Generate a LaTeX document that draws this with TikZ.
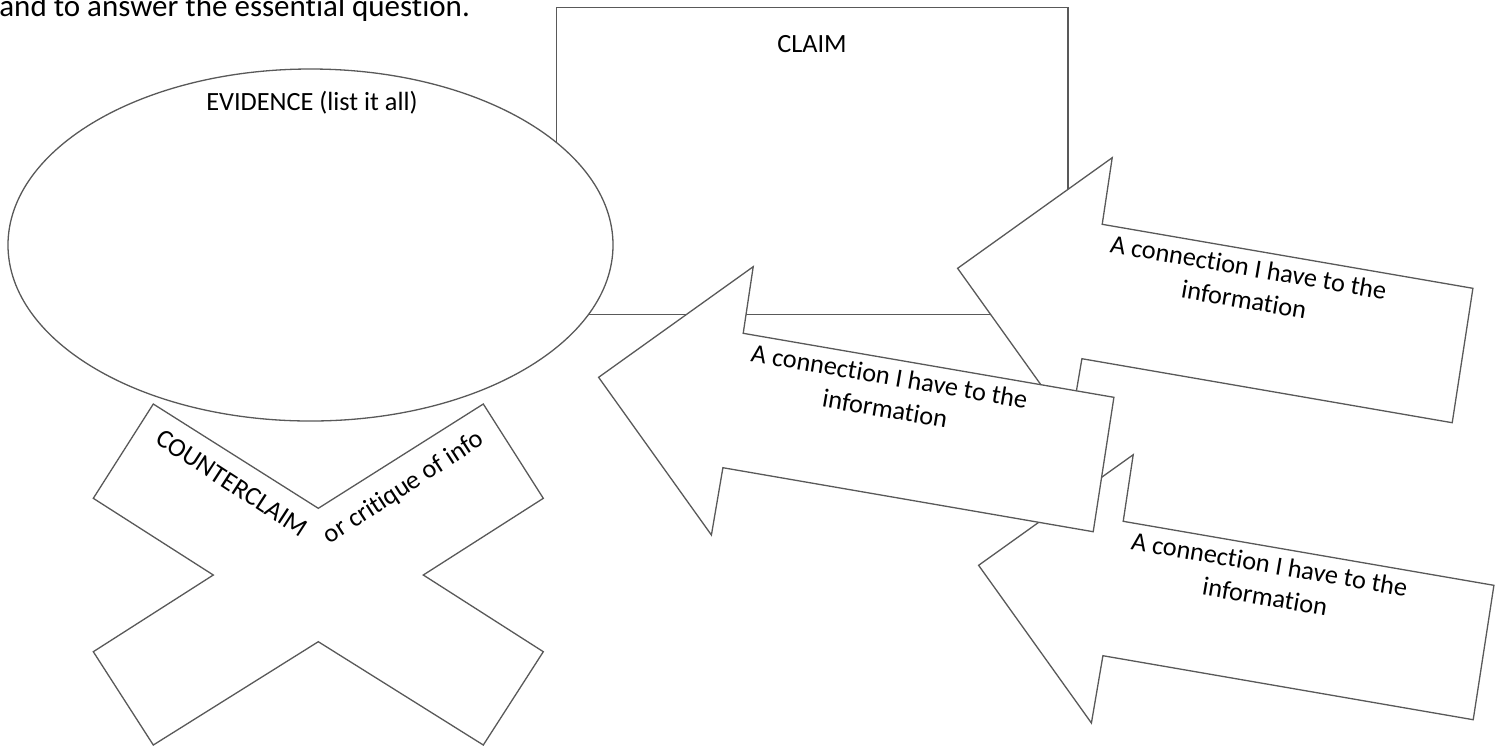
\documentclass[tikz,border=0pt]{standalone}
\usepackage{fontspec}
\setmainfont{Carlito}[Ligatures=NoCommon]
\definecolor{shapeline}{RGB}{89,89,89}
\tikzset{
  shp/.style={draw=shapeline, fill=white, line width=0.65pt},
  lbl/.style={font=\fontsize{13.15}{16}\selectfont, inner sep=0pt}
}

\begin{document}
\begin{tikzpicture}[x=0.5pt, y=-0.5pt]
\useasboundingbox (0,0) rectangle (1502,746);
\node[anchor=base west, inner sep=0pt, font=\fontsize{15.5}{19}\selectfont] (intro) at (-1,16.5) {and to answer the essential question.};

\draw[shp] (556.5,7.3) rectangle (1067.9,314.3);
\node[lbl, anchor=base] (claim) at (812,52.3) {CLAIM};

\draw[shp] (310.5,245) ellipse [x radius=302.5, y radius=176];
\node[lbl, anchor=base] (evidence) at (312,110) {EVIDENCE (list it all)};

\draw[shp] (153.3,404) -- (318.3,508.3) -- (483.3,404) -- (543.3,498.3) -- (423.3,575) -- (543.3,651.7) -- (483.3,745) -- (318.3,641.7) -- (153.3,745) -- (93.3,651.7) -- (213.3,575) -- (93.3,498.3) -- cycle;
\node[lbl, rotate=-33] (counter) at (232,483) {COUNTERCLAIM};
\node[lbl, rotate=33] (critique) at (404,488) {or critique of info};

\foreach \dx/\dy/\k in {380/188/3, 359/-109/2, 0/0/1} {
  \begin{scope}[shift={(\dx,\dy)}]
  \draw[shp] (598.6,377.3) -- (753.2,266.7) -- (743.2,333.3) -- (1113.9,397.3) -- (1093.2,531.7) -- (722.9,467.7) -- (711.4,535) -- cycle;
  \node[lbl, rotate=-9.7, anchor=base] (conn\k a) at (888,385) {A connection I have to the};
  \node[lbl, rotate=-9.7, anchor=base] (conn\k b) at (883.5,417.3) {information};
  \end{scope}
}
\end{tikzpicture}
\end{document}
